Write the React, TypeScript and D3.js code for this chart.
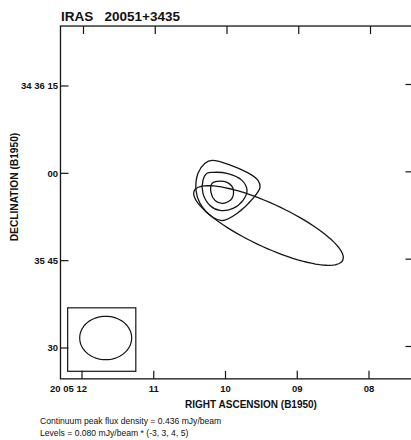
import React from 'react';
import * as d3 from 'd3';

// RA seconds (20 05 xx) and Dec arcsec offset from 34 36 00
const raTicks = [12, 11, 10, 9, 8];
const raLabels = ['20 05 12', '11', '10', '09', '08'];
const decTicks = [15, 0, -15, -30];
const decLabels = ['34 36 15', '00', '35 45', '30'];

// contour levels -> traced outlines [ra s, dec "]
const contourOuter = [[10.188, 2.24], [9.70, 0.17], [9.547, -1.21], [9.519, -2.41], [9.617, -4.31], [9.84, -6.90], [10.035, -8.10], [10.174, -7.59], [10.355, -5.17], [10.411, -2.93], [10.383, 0], [10.286, 1.72]];
const contourMid = [[10.174, 0.17], [9.979, 0], [9.77, -1.21], [9.70, -2.93], [9.756, -4.66], [9.895, -6.03], [10.077, -6.38], [10.216, -5.52], [10.314, -3.45], [10.314, -1.21], [10.258, 0]];
const contourInner = [[10.118, -1.38], [9.979, -1.55], [9.895, -2.59], [9.909, -4.31], [10.035, -5.17], [10.146, -4.66], [10.202, -3.28], [10.188, -1.72]];
const contours = [contourOuter, contourMid, contourInner];

// fitted source ellipse + beam: [ra, dec, major", minor", PA deg]
const sourceEllipse = [9.401, -8.96, 14.1, 3.7, 65];
const beam = [11.67, -28.28, 4.47, 3.73, 90];
const beamBox = { ra: [12.2, 11.25], dec: [-23.1, -34.0] };

const frameRa = [12.3, 7.38];
const frameDec = [25.3, -35.3];

const SEC_TO_ARCSEC = 15 * Math.cos((34.6 * Math.PI) / 180);

const font = 'Liberation Sans, Arial, sans-serif';

const App = () => {
  const width = 411;
  const height = 440;

  const x = d3.scaleLinear().domain([12, 8]).range([82, 369]);
  const y = d3.scaleLinear().domain([15, -30]).range([86, 348]);

  const left = x(frameRa[0]);
  const right = x(frameRa[1]);
  const top = y(frameDec[0]);
  const bottom = y(frameDec[1]);
  const tick = 8;

  const line = d3.line<number[]>()
    .x(d => x(d[0]))
    .y(d => y(d[1]))
    .curve(d3.curveCatmullRomClosed.alpha(0.5));

  const ellipsePts = (e: number[]) => {
    const [ra0, dec0, a, b, pa] = e;
    const p = (pa * Math.PI) / 180;
    return d3.range(0, 360, 4).map(deg => {
      const t = (deg * Math.PI) / 180;
      const east = a * Math.cos(t) * Math.sin(p) + b * Math.sin(t) * Math.cos(p);
      const north = a * Math.cos(t) * Math.cos(p) - b * Math.sin(t) * Math.sin(p);
      return [ra0 + east / SEC_TO_ARCSEC, dec0 + north];
    });
  };
  const ellLine = d3.line<number[]>().x(d => x(d[0])).y(d => y(d[1])).curve(d3.curveLinearClosed);

  const stroke = '#151515';

  return (
    <svg width={width} height={height} style={{ position: 'absolute', left: 0, top: 0, background: '#fff' }}>
      <text x={61} y={21} fontFamily={font} fontWeight="bold" fontSize={13.5} fill="#111" xmlSpace="preserve">IRAS   20051+3435</text>

      {/* frame */}
      <rect x={left} y={top} width={right - left} height={bottom - top} fill="none" stroke={stroke} strokeWidth={1.3} />

      {raTicks.map((t, i) => (
        <g key={'ra' + i}>
          <line x1={x(t)} x2={x(t)} y1={bottom} y2={bottom - tick} stroke={stroke} strokeWidth={1.2} />
          <line x1={x(t) + 1.5} x2={x(t) + 1.5} y1={top} y2={top + tick} stroke={stroke} strokeWidth={1.2} />
          <text x={i === 0 ? x(t) + 5 : x(t)} y={391.5} textAnchor={i === 0 ? 'end' : 'middle'} fontFamily={font} fontWeight="bold" fontSize={9.5} fill="#111" xmlSpace="preserve">{raLabels[i]}</text>
        </g>
      ))}
      {decTicks.map((t, i) => (
        <g key={'dec' + i}>
          <line x1={left} x2={left + tick} y1={y(t)} y2={y(t)} stroke={stroke} strokeWidth={1.2} />
          <line x1={right} x2={right - tick} y1={y(t) - 1.5} y2={y(t) - 1.5} stroke={stroke} strokeWidth={1.2} />
          <text x={left - 2.5} y={y(t) + 3.4} textAnchor="end" fontFamily={font} fontWeight="bold" fontSize={9.5} fill="#111" xmlSpace="preserve">{decLabels[i]}</text>
        </g>
      ))}

      <text x={251} y={408} textAnchor="middle" fontFamily={font} fontWeight="bold" fontSize={10} fill="#111">RIGHT ASCENSION (B1950)</text>
      <text transform={`translate(17.5,187) rotate(-90)`} textAnchor="middle" fontFamily={font} fontWeight="bold" fontSize={10.2} fill="#111">DECLINATION (B1950)</text>

      <text x={40} y={424} fontFamily={font} fontSize={8.6} fill="#111">Continuum peak flux density = 0.436 mJy/beam</text>
      <text x={40} y={435.5} fontFamily={font} fontSize={8.6} fill="#111">Levels = 0.080 mJy/beam * (-3, 3, 4, 5)</text>

      {/* contours */}
      {contours.map((c, i) => (
        <path key={'c' + i} d={line(c) || ''} fill="none" stroke={stroke} strokeWidth={1.3} />
      ))}
      <path d={ellLine(ellipsePts(sourceEllipse)) || ''} fill="none" stroke={stroke} strokeWidth={1.3} />

      {/* beam */}
      <rect x={x(beamBox.ra[0])} y={y(beamBox.dec[0])} width={x(beamBox.ra[1]) - x(beamBox.ra[0])} height={y(beamBox.dec[1]) - y(beamBox.dec[0])} fill="none" stroke={stroke} strokeWidth={1.2} />
      <path d={ellLine(ellipsePts(beam)) || ''} fill="none" stroke={stroke} strokeWidth={1.2} />
    </svg>
  );
};

export default App;
